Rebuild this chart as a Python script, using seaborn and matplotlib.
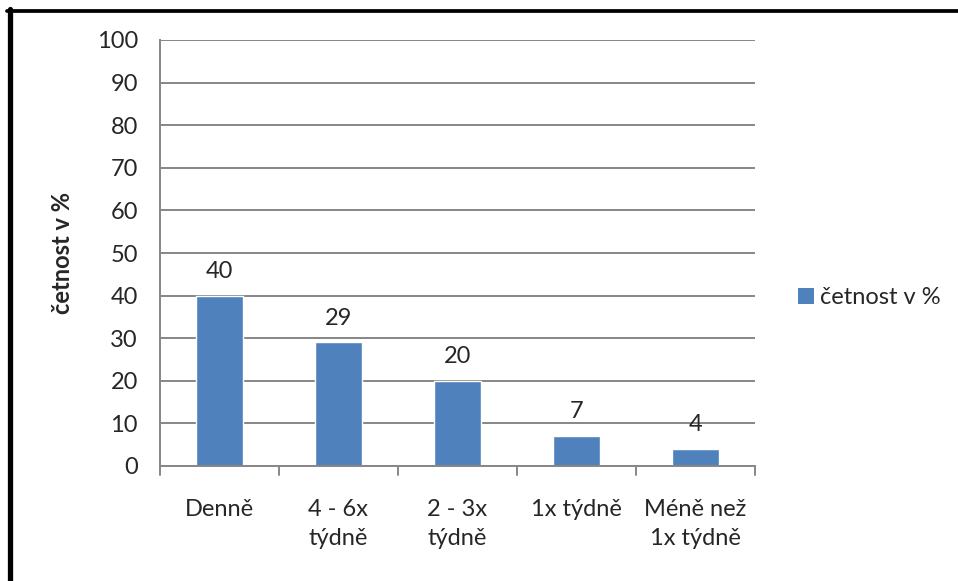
import matplotlib
matplotlib.use("Agg")
import matplotlib.pyplot as plt
import seaborn as sns
import pandas as pd
from matplotlib.lines import Line2D
from matplotlib.patches import Patch

# data
categories = ["Denně", "4 - 6x\ntýdně", "2 - 3x\ntýdně", "1x týdně", "Méně než\n1x týdně"]
values = [40, 29, 20, 7, 4]
series_name = "četnost v %"
y_ticks = list(range(0, 101, 10))

df = pd.DataFrame({"kategorie": categories, "hodnota": values})

sns.set_style("white")
plt.rcParams["font.family"] = ["Lato", "DejaVu Sans"]

bar_color = "#4F81BD"
grid_color = "#868686"
fs = 17

fig = plt.figure(figsize=(9.58, 5.81), dpi=100)
W, H = 958, 581
ax = fig.add_axes([160 / W, 1 - 466 / H, (755 - 160) / W, (466 - 40) / H])

sns.barplot(data=df, x="kategorie", y="hodnota", color=bar_color,
            width=0.4, saturation=1, ax=ax)

ax.set_ylim(0, 100)
ax.set_xlim(-0.5, len(categories) - 0.5)
ax.set_yticks(y_ticks)
ax.set_yticklabels([str(t) for t in y_ticks], fontsize=fs)
ax.yaxis.grid(True, color=grid_color, linewidth=1.4)
ax.set_axisbelow(True)

for s in ["top", "right"]:
    ax.spines[s].set_visible(False)
for s in ["left", "bottom"]:
    ax.spines[s].set_color(grid_color)
    ax.spines[s].set_linewidth(1.4)

ax.tick_params(axis="y", length=7, width=1.4, color=grid_color, pad=9)
ax.tick_params(axis="x", length=0, pad=24)
ax.set_xticks(range(len(categories)))
ax.set_xticklabels(categories, fontsize=fs, linespacing=1.45, va="top")

# category boundary ticks below the axis
for b in [i - 0.5 for i in range(len(categories) + 1)]:
    ax.plot([b, b], [0, -2.1], color=grid_color, lw=1.4, clip_on=False)

ax.set_xlabel("")
ax.set_ylabel(series_name, fontsize=fs, fontweight="bold")
ax.yaxis.set_label_coords((74 - 160) / 595, 0.5)

for i, v in enumerate(values):
    ax.annotate(str(v), (i, v), xytext=(0, 10), textcoords="offset points",
                ha="center", va="bottom", fontsize=fs)

legend_handles = [Patch(facecolor=bar_color, edgecolor="none", label=series_name)]
fig.legend(handles=legend_handles, loc="center left",
           bbox_to_anchor=(789 / W, 1 - 298 / H), frameon=False,
           fontsize=fs, handlelength=0.65, handleheight=0.65,
           handletextpad=0.25, borderaxespad=0)

# border lines (top and left)
fig.add_artist(Line2D([7 / W, 1], [1 - 10.8 / H, 1 - 10.8 / H],
                      transform=fig.transFigure, color="black", lw=2.7))
fig.add_artist(Line2D([10 / W, 10 / W], [0, 1 - 9 / H],
                      transform=fig.transFigure, color="black", lw=3.8))

fig.savefig("out.png", dpi=100)
